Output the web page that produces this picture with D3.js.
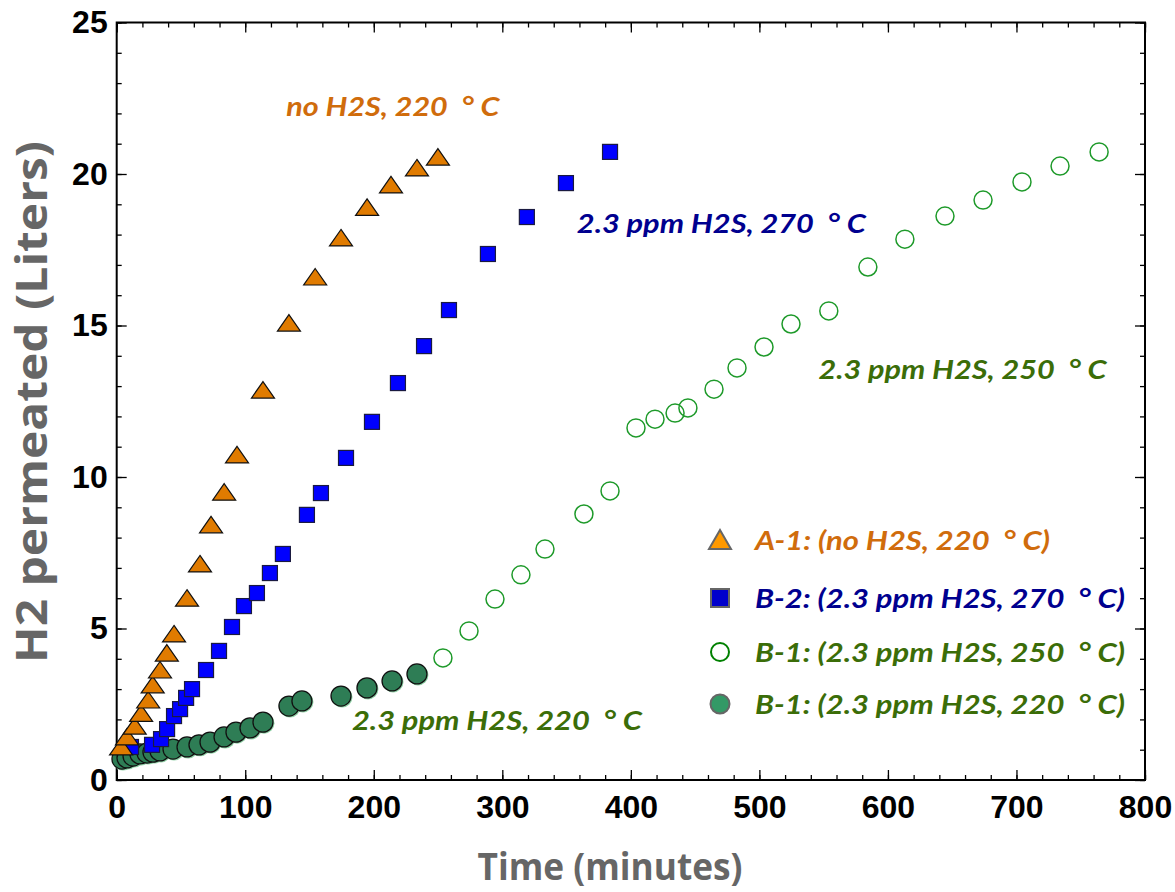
<!DOCTYPE html>
<html>
<head>
<meta charset="utf-8">
<script src="https://cdn.jsdelivr.net/npm/d3@7"></script>
<style>
  body { margin: 0; background: #fff; }
  svg { display: block; }
</style>
</head>
<body>
<div id="chart"></div>
<script>
// A-1: no H2S, 220 C  (time in minutes, H2 in liters)
const a1Time = [3.4, 8, 14, 19, 24.5, 28, 33.7, 39, 44.6, 54.7, 64.8, 73.4, 83.6, 93.6, 113.8, 134, 154.4, 174.5, 194.8, 213.4, 233.6, 249.9];
const a1H2   = [1.09, 1.42, 1.78, 2.2, 2.64, 3.14, 3.63, 4.19, 4.82, 6.0, 7.13, 8.42, 9.5, 10.73, 12.87, 15.08, 16.6, 17.89, 18.9, 19.64, 20.2, 20.56];

// B-2: 2.3 ppm H2S, 270 C
const b2Time = [11.1, 27.5, 34.5, 39.2, 44.6, 49.3, 54, 58.6, 69.5, 79.6, 89.7, 99, 109.1, 119.2, 129.3, 148, 158.9, 178.4, 198.6, 218.8, 239.1, 258.5, 288.8, 319.1, 349.5, 383.8];
const b2H2   = [1.09, 1.16, 1.35, 1.68, 2.11, 2.34, 2.71, 3.0, 3.63, 4.26, 5.05, 5.74, 6.17, 6.83, 7.46, 8.75, 9.47, 10.63, 11.82, 13.1, 14.32, 15.51, 17.36, 18.58, 19.7, 20.73];

// B-1: 2.3 ppm H2S, 250 C (open circles)
const b1hTime = [253.8, 274.1, 294.3, 314.5, 333.2, 363.5, 383.8, 404, 418.8, 434.4, 444.4, 464.7, 482.6, 503.6, 524.6, 554, 584.4, 613.2, 644.4, 674, 704.3, 733.9, 764.3];
const b1hH2   = [4.03, 4.92, 5.97, 6.77, 7.62, 8.78, 9.54, 11.62, 11.91, 12.11, 12.28, 12.9, 13.6, 14.29, 15.05, 15.48, 16.93, 17.85, 18.61, 19.14, 19.74, 20.26, 20.73];

// B-1: 2.3 ppm H2S, 220 C (filled circles)
const b1lTime = [4.1, 8, 12.7, 18.1, 23.6, 28.2, 33.7, 43.8, 54.7, 64, 72.6, 83.5, 92.8, 103.7, 113.8, 134, 144.1, 174.5, 194.7, 214.2, 233.6];
const b1lH2   = [0.69, 0.73, 0.79, 0.86, 0.89, 0.92, 0.96, 1.02, 1.09, 1.16, 1.25, 1.42, 1.58, 1.72, 1.91, 2.44, 2.61, 2.77, 3.04, 3.27, 3.5];

const xTicks = [0, 100, 200, 300, 400, 500, 600, 700, 800];
const yTicks = [0, 5, 10, 15, 20, 25];

const deg = '\u00a0 \u00b0 C';
const annotations = [
  { text: 'no H2S, 220' + deg, time: 132, h2: 21.9, colour: '#d06c0c', len: 213 },
  { text: '2.3 ppm H2S, 270' + deg, time: 358, h2: 18.05, colour: '#00008f', len: 289 },
  { text: '2.3 ppm H2S, 250' + deg, time: 546, h2: 13.25, colour: '#3b6d08', len: 288 },
  { text: '2.3 ppm H2S, 220' + deg, time: 183, h2: 1.65, colour: '#3b6d08', len: 290 }
];

const legendLabels = [
  'A-1: (no H2S, 220' + deg + ')',
  'B-2: (2.3 ppm H2S, 270' + deg + ')',
  'B-1: (2.3 ppm H2S, 250' + deg + ')',
  'B-1: (2.3 ppm H2S, 220' + deg + ')'
];

const w = 1175;
const h = 892;
const margin = ({ top: 22.5, right: 30, bottom: 112, left: 116.7 });

const svg = d3.select('#chart')
  .append('svg')
  .attr('width', w)
  .attr('height', h);

// scales
const xScale = d3.scaleLinear()
  .domain([0, 800])
  .range([margin.left, w - margin.right]);

const yScale = d3.scaleLinear()
  .domain([0, 25])
  .range([h - margin.bottom, margin.top]);

const x0 = xScale.range()[0], x1 = xScale.range()[1];
const y0 = yScale.range()[0], y1 = yScale.range()[1];

// axes, ticks pointing inward
const tickFont = (g) => g.selectAll('text')
  .attr('font-family', '"Liberation Sans", Arial, sans-serif')
  .attr('font-weight', 'bold')
  .attr('font-size', 32)
  .attr('fill', '#000');

const minorX = d3.range(0, 801, 20);
const minorY = d3.range(0, 26, 1);

svg.append('g')
  .attr('transform', `translate(0, ${y0})`)
  .call(d3.axisBottom(xScale).tickValues(minorX).tickSize(-5).tickFormat(''));
svg.append('g')
  .attr('transform', `translate(0, ${y1})`)
  .call(d3.axisTop(xScale).tickValues(minorX).tickSize(-5).tickFormat(''));
svg.append('g')
  .attr('transform', `translate(${x0}, 0)`)
  .call(d3.axisLeft(yScale).tickValues(minorY).tickSize(-5).tickFormat(''));
svg.append('g')
  .attr('transform', `translate(${x1}, 0)`)
  .call(d3.axisRight(yScale).tickValues(minorY).tickSize(-5).tickFormat(''));

svg.append('g')
  .classed('x-axis', true)
  .attr('transform', `translate(0, ${y0})`)
  .call(d3.axisBottom(xScale).tickValues(xTicks).tickSizeInner(-10).tickSizeOuter(0).tickPadding(15))
  .call(tickFont);
svg.append('g')
  .attr('transform', `translate(0, ${y1})`)
  .call(d3.axisTop(xScale).tickValues(xTicks).tickSizeInner(-10).tickSizeOuter(0).tickFormat(''));
svg.append('g')
  .classed('y-axis', true)
  .attr('transform', `translate(${x0}, 0)`)
  .call(d3.axisLeft(yScale).tickValues(yTicks).tickSizeInner(-10).tickSizeOuter(0).tickPadding(9))
  .call(tickFont);
svg.append('g')
  .attr('transform', `translate(${x1}, 0)`)
  .call(d3.axisRight(yScale).tickValues(yTicks).tickSizeInner(-10).tickSizeOuter(0).tickFormat(''));

svg.selectAll('.domain').remove();
svg.selectAll('.tick line').attr('stroke', '#000').attr('stroke-width', 1.3);

// frame
svg.append('rect')
  .attr('x', x0)
  .attr('y', y1)
  .attr('width', x1 - x0)
  .attr('height', y0 - y1)
  .attr('fill', 'none')
  .attr('stroke', '#000')
  .attr('stroke-width', 2);

// axis titles
svg.append('text')
  .attr('x', 610)
  .attr('y', 880)
  .attr('text-anchor', 'middle')
  .attr('font-family', '"Open Sans", sans-serif')
  .attr('font-weight', 'bold')
  .attr('font-size', 38)
  .attr('textLength', 265)
  .attr('lengthAdjust', 'spacingAndGlyphs')
  .attr('fill', '#666')
  .text('Time (minutes)');

svg.append('text')
  .attr('transform', 'translate(47, 402) rotate(-90)')
  .attr('text-anchor', 'middle')
  .attr('font-family', '"Open Sans", sans-serif')
  .attr('font-weight', 'bold')
  .attr('font-size', 43)
  .attr('textLength', 522)
  .attr('lengthAdjust', 'spacingAndGlyphs')
  .attr('fill', '#666')
  .text('H2 permeated (Liters)');

// marks
const triPath = 'M0,-8.5L11.5,8L-11.5,8Z';

const zip = (xs, ys) => xs.map((t, i) => ({ t, v: ys[i] }));

// filled circles, with a faint light halo
const b1l = svg.append('g');
b1l.selectAll('.halo')
  .data(zip(b1lTime, b1lH2))
  .enter()
  .append('circle')
  .attr('cx', d => xScale(d.t) + 1)
  .attr('cy', d => yScale(d.v) + 1)
  .attr('r', 10.5)
  .attr('fill', '#8fd0a6');
b1l.selectAll('.pt')
  .data(zip(b1lTime, b1lH2))
  .enter()
  .append('circle')
  .attr('cx', d => xScale(d.t))
  .attr('cy', d => yScale(d.v))
  .attr('r', 10)
  .attr('fill', '#2e7d55')
  .attr('stroke', '#111')
  .attr('stroke-width', 1.3);

svg.append('g')
  .selectAll('rect')
  .data(zip(b2Time, b2H2))
  .enter()
  .append('rect')
  .attr('x', d => xScale(d.t) - 7.5)
  .attr('y', d => yScale(d.v) - 7.5)
  .attr('width', 15)
  .attr('height', 15)
  .attr('fill', '#0000ff')
  .attr('stroke', '#1a1a40')
  .attr('stroke-width', 1.2);

svg.append('g')
  .selectAll('path')
  .data(zip(a1Time, a1H2))
  .enter()
  .append('path')
  .attr('transform', d => `translate(${xScale(d.t)}, ${yScale(d.v)})`)
  .attr('d', triPath)
  .attr('fill', '#e07b00')
  .attr('stroke', '#111')
  .attr('stroke-width', 1.2);

svg.append('g')
  .selectAll('circle')
  .data(zip(b1hTime, b1hH2))
  .enter()
  .append('circle')
  .attr('cx', d => xScale(d.t))
  .attr('cy', d => yScale(d.v))
  .attr('r', 9)
  .attr('fill', 'none')
  .attr('stroke', '#1e9a2a')
  .attr('stroke-width', 1.5);

// annotations
const labelFont = (sel) => sel
  .attr('font-family', 'Lato, "Open Sans", sans-serif')
  .attr('font-weight', 'bold')
  .attr('font-style', 'italic')
  .attr('font-size', 27)
  .attr('lengthAdjust', 'spacingAndGlyphs');

svg.append('g')
  .selectAll('text')
  .data(annotations)
  .enter()
  .append('text')
  .attr('x', d => xScale(d.time))
  .attr('y', d => yScale(d.h2))
  .attr('fill', d => d.colour)
  .attr('textLength', d => d.len)
  .call(labelFont)
  .text(d => d.text);

// legend
const legendColours = ['#d06c0c', '#00008f', '#3b6d08', '#3b6d08'];
const legendLens = [295, 370, 370, 370];
const legend = svg.append('g').attr('transform', 'translate(720, 540)');
const rowY = [0, 58, 112, 164];

legend.append('path')
  .attr('transform', `translate(0, ${rowY[0]})`)
  .attr('d', 'M0,-10L11,9L-11,9Z')
  .attr('fill', '#ff9900')
  .attr('stroke', '#666')
  .attr('stroke-width', 2);
legend.append('rect')
  .attr('x', -9).attr('y', rowY[1] - 9)
  .attr('width', 18).attr('height', 18)
  .attr('fill', '#0000cc')
  .attr('stroke', '#666')
  .attr('stroke-width', 2);
legend.append('circle')
  .attr('cx', 0).attr('cy', rowY[2])
  .attr('r', 9)
  .attr('fill', 'none')
  .attr('stroke', '#008000')
  .attr('stroke-width', 2);
legend.append('circle')
  .attr('cx', 0).attr('cy', rowY[3])
  .attr('r', 9.5)
  .attr('fill', '#339966')
  .attr('stroke', '#666')
  .attr('stroke-width', 2);

legend.selectAll('.legend-label')
  .data(legendLabels)
  .enter()
  .append('text')
  .attr('x', 35)
  .attr('y', (d, i) => rowY[i] + 10)
  .attr('fill', (d, i) => legendColours[i])
  .attr('textLength', (d, i) => legendLens[i])
  .call(labelFont)
  .text(d => d);
</script>
</body>
</html>
